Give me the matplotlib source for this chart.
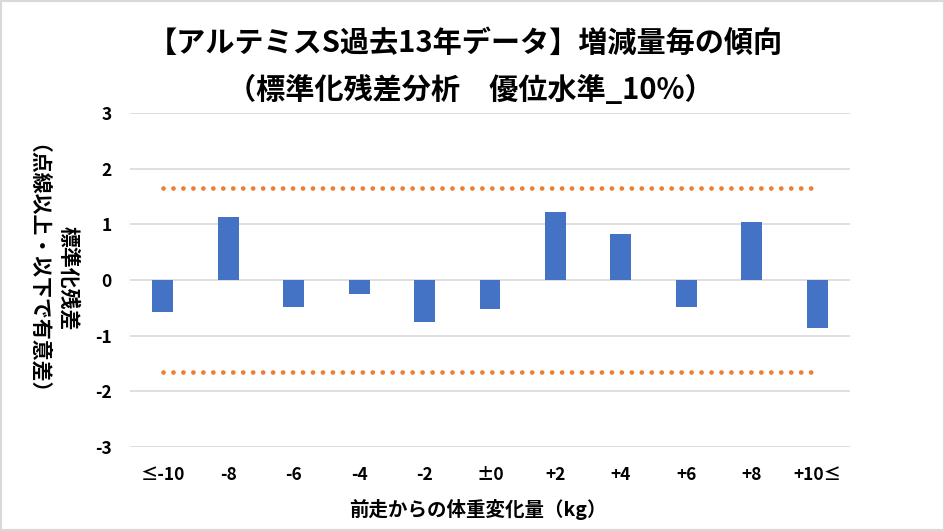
import matplotlib
matplotlib.use('Agg')
import matplotlib.pyplot as plt
from matplotlib.patches import Rectangle
import numpy as np

# ---- data ----
categories = ['≤-10', '-8', '-6', '-4', '-2', '±0', '+2', '+4', '+6', '+8', '+10≤']
residuals = [-0.58, 1.14, -0.48, -0.25, -0.75, -0.52, 1.23, 0.83, -0.48, 1.05, -0.87]
threshold = 1.645
y_ticks = [-3, -2, -1, 0, 1, 2, 3]
title_line1 = '【アルテミスS過去13年データ】増減量毎の傾向'
title_line2 = '（標準化残差分析　優位水準_10%）'
x_label = '前走からの体重変化量（kg）'
y_label1 = '標準化残差'
y_label2 = '（点線以上・以下で有意差）'

plt.rcParams['font.family'] = ['Noto Sans CJK JP', 'DejaVu Sans']

W, H = 945, 531
fig = plt.figure(figsize=(W / 100, H / 100), dpi=100)
fig.patch.set_facecolor('white')

ax = fig.add_axes([130 / W, (H - 447) / H, 720 / W, 334 / H])
x = np.arange(len(categories))
ax.bar(x, residuals, width=0.32, color='#4472C4', zorder=3)
for s in (threshold, -threshold):
    ax.plot([x[0], x[-1]], [s, s], color='#ED7D31', lw=3.4,
            linestyle=(0, (0.01, 2.1)), dash_capstyle='round', zorder=4)

ax.set_xlim(-0.5, len(categories) - 0.5)
ax.set_ylim(-3, 3)
ax.set_yticks(y_ticks)
ax.set_yticklabels([str(t) for t in y_ticks], fontsize=12.5, fontweight='bold')
ax.set_xticks(x)
ax.set_xticklabels(categories, fontsize=12.5, fontweight='bold')
ax.tick_params(axis='both', length=0)
ax.tick_params(axis='y', pad=13)
ax.tick_params(axis='x', pad=14)
ax.grid(axis='y', color='#D9D9D9', lw=1.2, zorder=0)
for sp in ax.spines.values():
    sp.set_visible(False)

fig.text(465 / W, 1 - 43 / H, title_line1, ha='center', va='center',
         fontsize=21, fontweight='bold')
fig.text(470 / W, 1 - 90 / H, title_line2, ha='center', va='center',
         fontsize=21, fontweight='bold')
fig.text(478 / W, 1 - 510 / H, x_label, ha='center', va='center',
         fontsize=14, fontweight='bold')
fig.text(69 / W, 1 - 278 / H, y_label1, ha='center', va='center',
         rotation=-90, fontsize=15, fontweight='bold')
fig.text(27 / W, 1 - 280 / H, y_label2, ha='center', va='center',
         rotation=-90, fontsize=15, fontweight='bold')

fig.patches.append(Rectangle((0, 0), 1, 1, transform=fig.transFigure,
                             fill=False, edgecolor='#D9D9D9', lw=3))

fig.savefig('out.png', dpi=100)
